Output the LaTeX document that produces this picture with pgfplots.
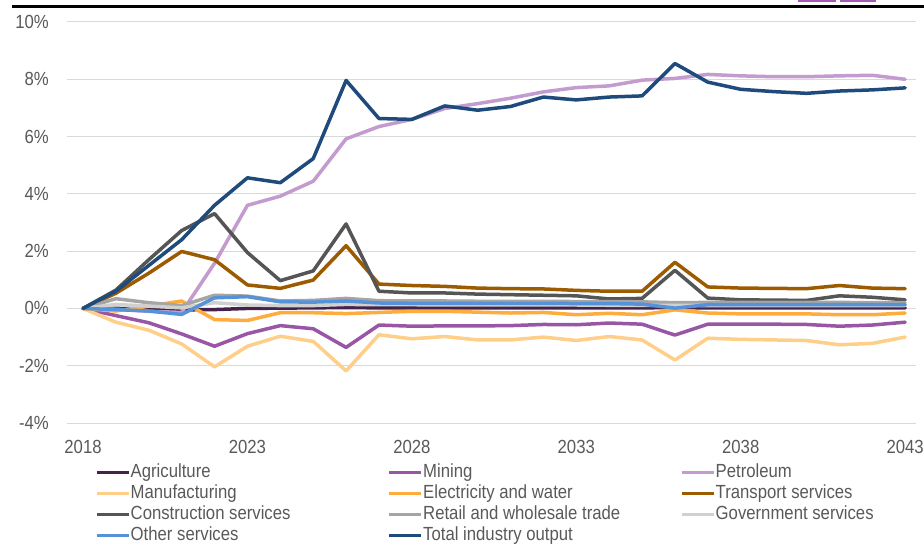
\documentclass[border=0pt]{standalone}
\usepackage{fontspec}
\setmainfont{Liberation Sans}[FakeStretch=0.88]
\usepackage{pgfplots}
\usepackage{pgfplotstable}
\pgfplotsset{compat=1.18}

\definecolor{cAgr}{HTML}{442249}
\definecolor{cMin}{HTML}{9A56A6}
\definecolor{cPet}{HTML}{C39BCF}
\definecolor{cMan}{HTML}{FFCF8A}
\definecolor{cEle}{HTML}{FFAC3E}
\definecolor{cTra}{HTML}{9C5B00}
\definecolor{cCon}{HTML}{555555}
\definecolor{cRet}{HTML}{A5A5A5}
\definecolor{cGov}{HTML}{D0D0D0}
\definecolor{cOth}{HTML}{5592D8}
\definecolor{cTot}{HTML}{1F4A7C}
\definecolor{txtgray}{HTML}{595959}
\definecolor{gridgray}{HTML}{D9D9D9}
\definecolor{topmark}{HTML}{A15DB5}

\pgfplotstableread{
year agr   min   pet   man   ele   tra   con   ret   gov   oth   tot
2018 0     0     0     0     0     0     0     0     0     0     0
2019 0     -0.25 -0.03 -0.48 -0.09 0.53  0.64  0.34  0.14  -0.04 0.60
2020 -0.02 -0.50 -0.10 -0.76 0.08  1.23  1.70  0.20  0.08  -0.09 1.50
2021 -0.05 -0.89 -0.14 -1.24 0.26  1.99  2.72  0.10  0.02  -0.21 2.40
2022 -0.04 -1.32 1.58  -2.04 -0.39 1.70  3.31  0.46  0.20  0.37  3.60
2023 0.00  -0.88 3.60  -1.32 -0.42 0.82  1.95  0.43  0.12  0.41  4.56
2024 0.01  -0.60 3.92  -0.97 -0.15 0.70  0.97  0.26  0.10  0.23  4.39
2025 0.02  -0.71 4.44  -1.15 -0.15 0.99  1.31  0.28  0.10  0.22  5.23
2026 0.03  -1.36 5.92  -2.18 -0.18 2.19  2.95  0.35  0.14  0.26  7.96
2027 0.02  -0.58 6.35  -0.92 -0.14 0.85  0.60  0.27  0.13  0.19  6.63
2028 0.02  -0.62 6.60  -1.06 -0.10 0.80  0.54  0.26  0.13  0.18  6.60
2029 0.02  -0.61 6.98  -0.98 -0.10 0.77  0.54  0.26  0.12  0.18  7.07
2030 0.02  -0.61 7.15  -1.10 -0.13 0.71  0.50  0.25  0.12  0.18  6.92
2031 0.02  -0.60 7.34  -1.10 -0.16 0.69  0.48  0.25  0.12  0.18  7.05
2032 0.02  -0.56 7.56  -1.00 -0.14 0.68  0.46  0.25  0.12  0.18  7.38
2033 0.02  -0.57 7.71  -1.12 -0.22 0.63  0.44  0.24  0.12  0.17  7.28
2034 0.02  -0.51 7.77  -0.98 -0.17 0.60  0.33  0.24  0.11  0.17  7.38
2035 0.02  -0.55 7.97  -1.10 -0.22 0.60  0.35  0.23  0.11  0.15  7.42
2036 0.03  -0.93 8.03  -1.80 -0.05 1.61  1.33  0.20  0.11  0.01  8.55
2037 0.02  -0.55 8.17  -1.04 -0.16 0.75  0.36  0.21  0.10  0.13  7.90
2038 0.02  -0.55 8.12  -1.08 -0.19 0.71  0.30  0.21  0.10  0.13  7.65
2039 0.02  -0.55 8.09  -1.10 -0.19 0.70  0.29  0.21  0.10  0.13  7.57
2040 0.02  -0.56 8.09  -1.12 -0.19 0.69  0.28  0.21  0.10  0.13  7.51
2041 0.02  -0.62 8.12  -1.27 -0.22 0.80  0.44  0.21  0.10  0.13  7.59
2042 0.02  -0.58 8.14  -1.22 -0.22 0.71  0.39  0.20  0.10  0.13  7.63
2043 0.02  -0.48 8.00  -1.00 -0.16 0.69  0.30  0.20  0.10  0.13  7.70
}\data

\newcommand{\legtxt}[1]{\makebox[257pt][l]{#1}}

\begin{document}
\begin{tikzpicture}
\useasboundingbox (0,0) rectangle (924pt,547pt);
% header rule and cropped marks at the top
\fill[black] (12pt,538.5pt) rectangle (924pt,541.5pt);
\fill[topmark] (798pt,545pt) rectangle (836pt,547pt);
\fill[topmark] (840pt,545pt) rectangle (876pt,547pt);
\begin{axis}[
    at={(67pt,124pt)}, anchor=south west,
    scale only axis, width=849pt, height=401pt,
    xmin=2017.513, xmax=2043.33,
    ymin=-4, ymax=10,
    ytick={-4,-2,...,10},
    xtick={2018,2023,2028,2033,2038,2043},
    xticklabels={2018,2023,2028,2033,2038,2043},
    /pgf/number format/assume math mode=true,
    yticklabel={\pgfmathprintnumber{\tick}\%},
    axis line style={draw=none},
    tick style={draw=none},
    ymajorgrids,
    grid style={draw=gridgray, line width=1pt},
    every tick label/.append style={font=\fontsize{19}{23}\selectfont, text=txtgray},
    yticklabel style={inner xsep=0pt, xshift=-18pt},
    xticklabel style={inner ysep=0pt, yshift=-17pt},
    legend columns=3,
    legend style={at={(axis description cs:0.033,-0.097)}, anchor=north west,
        draw=none, fill=none, inner sep=0pt, row sep=0pt, column sep=0pt,
        font=\fontsize{19}{23}\selectfont, text=txtgray,
        nodes={inner sep=0pt, text height=15pt, text depth=6pt}},
    legend cell align=left,
    legend image code/.code={\draw[#1, line width=3.5pt, line cap=butt] (0pt,0pt) -- (32pt,0pt);},
    every axis plot/.append style={line width=3.5pt, line join=round, line cap=round},
]
\addplot[cAgr] table[x=year, y=agr] {\data};
\addplot[cMin] table[x=year, y=min] {\data};
\addplot[cPet] table[x=year, y=pet] {\data};
\addplot[cMan] table[x=year, y=man] {\data};
\addplot[cEle] table[x=year, y=ele] {\data};
\addplot[cTra] table[x=year, y=tra] {\data};
\addplot[cCon] table[x=year, y=con] {\data};
\addplot[cRet] table[x=year, y=ret] {\data};
\addplot[cGov] table[x=year, y=gov] {\data};
\addplot[cOth] table[x=year, y=oth] {\data};
\addplot[cTot] table[x=year, y=tot] {\data};
\legend{\legtxt{Agriculture},\legtxt{Mining},\legtxt{Petroleum},
        \legtxt{Manufacturing},\legtxt{Electricity and water},\legtxt{Transport services},
        \legtxt{Construction services},\legtxt{Retail and wholesale trade},\legtxt{Government services},
        \legtxt{Other services},\legtxt{Total industry output}}
\end{axis}
\end{tikzpicture}
\end{document}
